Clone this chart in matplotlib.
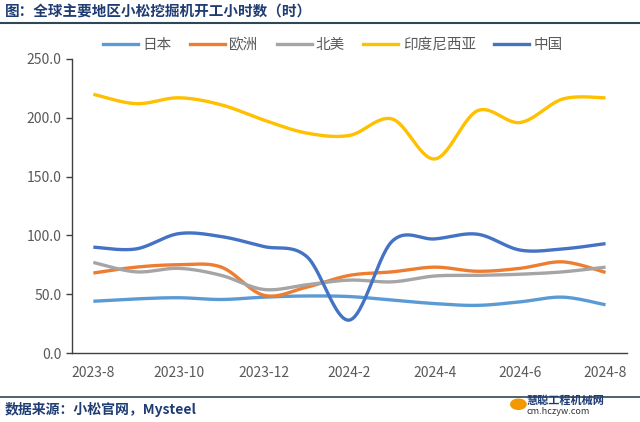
import matplotlib.pyplot as plt
import numpy as np
from matplotlib.lines import Line2D

plt.rcParams['font.family'] = ['Noto Sans CJK SC', 'DejaVu Sans']

months = ['2023-8', '2023-9', '2023-10', '2023-11', '2023-12', '2024-1', '2024-2',
          '2024-3', '2024-4', '2024-5', '2024-6', '2024-7', '2024-8']
japan = [44, 46, 47, 45.5, 47.5, 48.5, 48, 45, 42, 40.5, 43.5, 47.5, 41]
europe = [68, 73, 75, 73, 49, 56, 66, 69, 73, 69.5, 72, 77.5, 68.5]
north_america = [77, 69, 72, 66, 54, 58, 62, 60.5, 65.5, 66, 67, 69, 73]
indonesia = [220, 212, 217, 211, 198, 187, 185, 199, 165, 206, 196, 216, 217]
china = [90, 88.5, 101.5, 99, 90.5, 82, 28, 95, 97, 101, 87.5, 88.5, 93]

series = [('日本', japan, '#5B9BD5'),
          ('欧洲', europe, '#ED7D31'),
          ('北美', north_america, '#A5A5A5'),
          ('印度尼西亚', indonesia, '#FFC000'),
          ('中国', china, '#4472C4')]


def smooth(y, n=30):
    # Excel-style smoothed line: cubic Bezier with Catmull-Rom control points
    x = np.arange(len(y), dtype=float)
    y = np.asarray(y, dtype=float)
    pts = np.column_stack([x, y])
    ext = np.vstack([pts[0], pts, pts[-1]])
    t = np.linspace(0, 1, n)[:, None]
    out = []
    for i in range(len(pts) - 1):
        p0, p1, p2, p3 = ext[i], ext[i + 1], ext[i + 2], ext[i + 3]
        c1 = p1 + (p2 - p0) / 6
        c2 = p2 - (p3 - p1) / 6
        seg = ((1 - t) ** 3) * p1 + 3 * ((1 - t) ** 2) * t * c1 + 3 * (1 - t) * t ** 2 * c2 + t ** 3 * p2
        out.append(seg if i == 0 else seg[1:])
    out = np.vstack(out)
    return out[:, 0], out[:, 1]


fig = plt.figure(figsize=(6.4, 4.22), dpi=100)
ax = fig.add_axes([0.1125, 0.1635, 0.867, 0.6967])

for name, vals, color in series:
    sx, sy = smooth(vals)
    ax.plot(sx, sy, color=color, lw=2.4, solid_capstyle='butt', label=name)

ax.set_xlim(-0.5, len(months) - 0.5)
ax.set_ylim(0, 250)
ax.set_yticks(np.arange(0, 251, 50))
ax.set_yticklabels([f'{v:.1f}' for v in np.arange(0, 251, 50)])
ax.set_xticks(range(0, len(months), 2))
ax.set_xticklabels(months[::2])
ax.tick_params(axis='both', colors='#595959', labelsize=10)
ax.tick_params(axis='x', length=0, pad=9)
ax.tick_params(axis='y', length=4, width=1, direction='out', color='#404040')
for s in ['top', 'right']:
    ax.spines[s].set_visible(False)
for s in ['left', 'bottom']:
    ax.spines[s].set_color('#404040')
    ax.spines[s].set_linewidth(1)

handles = [Line2D([], [], color=c, lw=2.4) for _, _, c in series]
fig.legend(handles, [n for n, _, _ in series], loc='center', bbox_to_anchor=(0.52, 0.893),
           ncol=5, frameon=False, fontsize=10.5, handlelength=2.4, columnspacing=1.25,
           handletextpad=0.3, labelcolor='#595959')

# title and source bars
fig.text(0.008, 0.972, '图：全球主要地区小松挖掘机开工小时数（时）', fontsize=10.5,
         fontweight='bold', color='#1F3C73', va='center', ha='left')
fig.add_artist(Line2D([0, 1], [0.945, 0.945], color='#2F4858', lw=1.5))
fig.add_artist(Line2D([0, 1], [0.06, 0.06], color='#2F4858', lw=1.2))
fig.text(0.008, 0.03, '数据来源：小松官网，Mysteel', fontsize=10,
         fontweight='bold', color='#1F3C73', va='center', ha='left')

# watermark
fig.text(0.823, 0.052, '慧聪工程机械网', fontsize=8, fontweight='bold', color='#1F3C73',
         va='center', ha='left')
fig.text(0.823, 0.025, 'cm.hczyw.com', fontsize=6.5, color='#333333', va='center', ha='left')
fig.add_artist(plt.Circle((0.81, 0.042), 0.012, transform=fig.transFigure, color='#F39800'))

fig.savefig('out.png', dpi=100)
